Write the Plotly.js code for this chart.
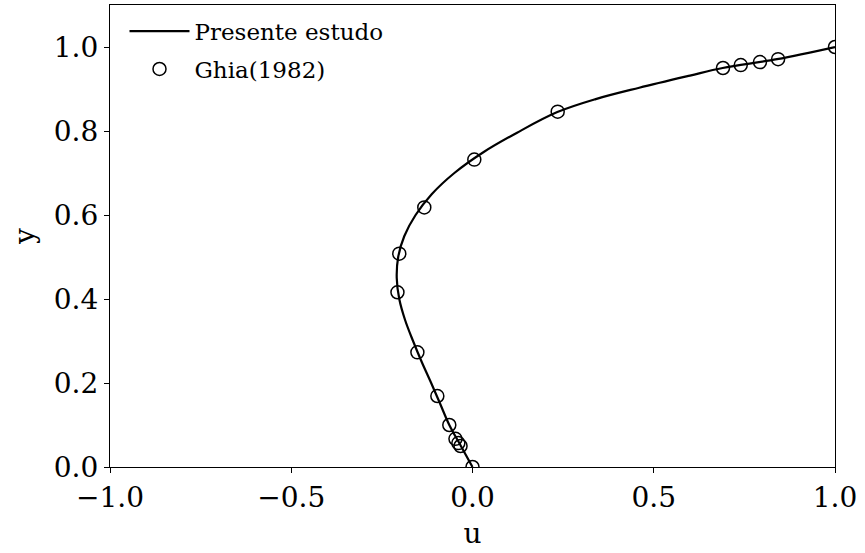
<!DOCTYPE html>
<html><head><meta charset="utf-8">
<script src="https://cdn.plot.ly/plotly-3.0.1.min.js"></script>
<style>body{margin:0;background:#fff}#chart{width:865px;height:553px}</style>
</head><body><div id="chart"></div>
<script>
// Present study (line)
const lineY = [0, 0.05, 0.10, 0.15, 0.20, 0.25, 0.30, 0.35, 0.40, 0.45, 0.50, 0.55, 0.60, 0.65, 0.70, 0.75, 0.796, 0.845, 0.876, 0.903, 0.932, 0.950, 0.971, 1.0];
const lineU = [0, -0.032, -0.064, -0.089, -0.114, -0.140, -0.164, -0.186, -0.202, -0.209, -0.205, -0.188, -0.157, -0.112, -0.050, 0.031, 0.123, 0.234, 0.34, 0.46, 0.60, 0.69, 0.84, 1.0];
// Ghia (1982) points
const ghiaY = [1.0, 0.971, 0.964, 0.957, 0.950, 0.846, 0.732, 0.618, 0.508, 0.416, 0.273, 0.169, 0.100, 0.067, 0.057, 0.050, 0.0];
const ghiaU = [1.0, 0.843, 0.793, 0.740, 0.691, 0.235, 0.005, -0.133, -0.202, -0.207, -0.152, -0.097, -0.064, -0.047, -0.039, -0.033, 0.0];
const xTicks = [-1.0, -0.5, 0.0, 0.5, 1.0];
const yTicks = [0.0, 0.2, 0.4, 0.6, 0.8, 1.0];
const fam = 'DejaVu Serif';
const fmt = v => (v < 0 ? '\u2212' : '') + Math.abs(v).toFixed(1);
const traces = [
  {x: lineU, y: lineY, mode: 'lines', name: 'Presente estudo', legendgroup: 'a', line: {color: 'black', width: 2.2, shape: 'spline', smoothing: 1}},
  {x: ghiaU, y: ghiaY, mode: 'markers', name: 'Ghia(1982)', legendgroup: 'b', marker: {symbol: 'circle-open', size: 13, color: 'black', line: {width: 1.5, color: 'black'}}}
];
const layout = {
  width: 865, height: 553,
  margin: {l: 110, r: 30, t: 5, b: 86},
  paper_bgcolor: 'white', plot_bgcolor: 'white',
  font: {family: fam, color: 'black', size: 20},
  showlegend: true,
  legend: {x: 0.02, y: 0.99, xanchor: 'left', yanchor: 'top', bgcolor: 'rgba(255,255,255,0)', traceorder: 'grouped', tracegroupgap: 5,
    font: {family: fam, size: 23, color: 'black'}, itemwidth: 60},
  xaxis: {range: [-1, 1], tickvals: xTicks, ticktext: xTicks.map(fmt), ticks: 'outside', ticklen: 5, tickwidth: 1.2, tickcolor: 'black',
    showline: true, mirror: true, linecolor: 'black', linewidth: 1.3, showgrid: false, zeroline: false,
    tickfont: {family: fam, size: 28}, title: {text: 'u', font: {family: fam, size: 28}, standoff: 10}},
  yaxis: {range: [0, 1.1], tickvals: yTicks, ticktext: yTicks.map(fmt), ticks: 'outside', ticklen: 5, tickwidth: 1.2, tickcolor: 'black',
    showline: true, mirror: true, linecolor: 'black', linewidth: 1.3, showgrid: false, zeroline: false,
    tickfont: {family: fam, size: 28}, title: {text: 'y', font: {family: fam, size: 28}, standoff: 10}}
};
Plotly.newPlot('chart', traces, layout, {displayModeBar: false});
</script></body></html>
